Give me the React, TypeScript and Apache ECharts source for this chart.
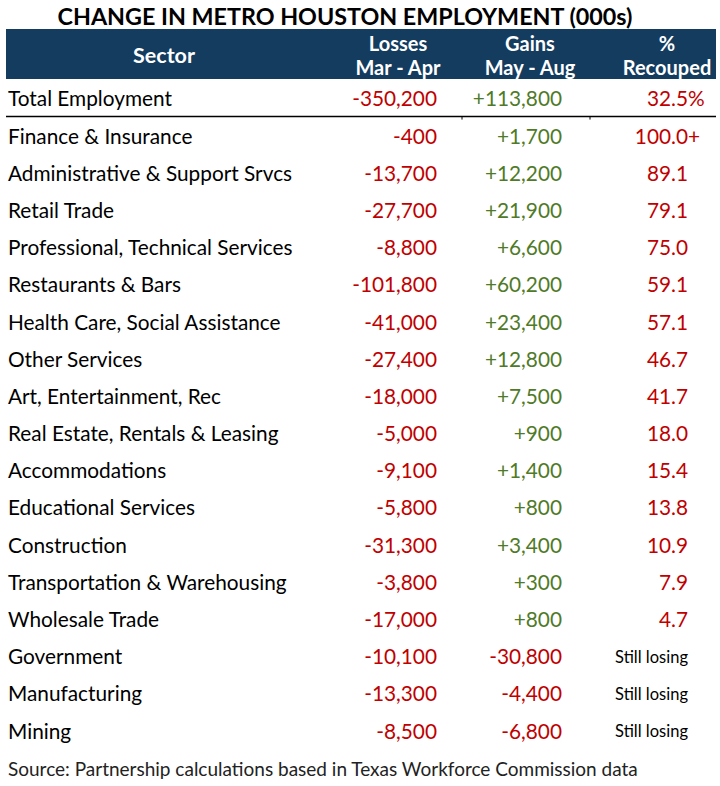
import React, { useEffect, useRef } from "react";
import * as echarts from "echarts";

const title = "CHANGE IN METRO HOUSTON EMPLOYMENT (000s)";
const headerSector = "Sector";
const headerCols = [
  ["Losses", "Mar - Apr"],
  ["Gains", "May - Aug"],
  ["%", "Recouped"],
];
const sectors = [
  "Total Employment",
  "Finance & Insurance",
  "Administrative & Support Srvcs",
  "Retail Trade",
  "Professional, Technical Services",
  "Restaurants & Bars",
  "Health Care, Social Assistance",
  "Other Services",
  "Art, Entertainment, Rec",
  "Real Estate, Rentals & Leasing",
  "Accommodations",
  "Educational Services",
  "Construction",
  "Transportation & Warehousing",
  "Wholesale Trade",
  "Government",
  "Manufacturing",
  "Mining",
];
const losses = [
  -350200, -400, -13700, -27700, -8800, -101800, -41000, -27400, -18000, -5000,
  -9100, -5800, -31300, -3800, -17000, -10100, -13300, -8500,
];
const gains = [
  113800, 1700, 12200, 21900, 6600, 60200, 23400, 12800, 7500, 900, 1400, 800,
  3400, 300, 800, -30800, -4400, -6800,
];
const recouped: (number | null)[] = [
  32.5, 100, 89.1, 79.1, 75.0, 59.1, 57.1, 46.7, 41.7, 18.0, 15.4, 13.8, 10.9,
  7.9, 4.7, null, null, null,
];
const stillLosing = "Still losing";
const source =
  "Source: Partnership calculations based in Texas Workforce Commission data";

const FONT = "Lato, 'Open Sans', sans-serif";
const RED = "#c00000";
const GREEN = "#4f7a28";
const NAVY = "#133c5f";

const fmtNum = (v: number) =>
  (v > 0 ? "+" : "") + v.toLocaleString("en-US");

export default function App() {
  const ref = useRef<HTMLDivElement>(null);
  useEffect(() => {
    document.body.style.margin = "0";
    const chart = echarts.init(ref.current!, null, { renderer: "svg" });
    const rowFont = 20.8;
    const option: any = {
      animation: false,
      backgroundColor: "#ffffff",
      grid: { left: 0, right: 0, top: 79.4, bottom: 37.4 },
      xAxis: { type: "value", min: 0, max: 720, show: false },
      yAxis: {
        type: "category",
        data: sectors,
        inverse: true,
        axisLine: { show: false },
        axisTick: { show: false },
        splitLine: { show: false },
        axisLabel: {
          inside: true,
          margin: 8,
          color: "#000",
          fontSize: rowFont,
          fontFamily: FONT,
        },
      },
      graphic: [
        {
          type: "text",
          x: 345,
          y: 16,
          style: {
            text: title,
            fill: "#000",
            fontSize: 23.3,
            fontWeight: "bold",
            fontFamily: FONT,
            align: "center",
            verticalAlign: "middle",
          },
        },
        {
          type: "rect",
          shape: { x: 6, y: 29, width: 710, height: 50 },
          style: { fill: NAVY },
        },
        {
          type: "text",
          x: 164,
          y: 55,
          style: {
            text: headerSector,
            fill: "#fff",
            fontSize: 21.5,
            fontWeight: "bold",
            fontFamily: FONT,
            align: "center",
            verticalAlign: "middle",
          },
        },
        ...headerCols.flatMap((lines, c) =>
          lines.map((t, k) => ({
            type: "text",
            x: [398, 530, 667][c],
            y: 43 + k * 24,
            style: {
              text: t,
              fill: "#fff",
              fontSize: 20,
              fontWeight: "bold",
              fontFamily: FONT,
              align: "center",
              verticalAlign: "middle",
            },
          }))
        ),
        {
          type: "text",
          x: 8,
          y: 768,
          style: {
            text: source,
            fill: "#222",
            fontSize: 19,
            fontFamily: FONT,
            align: "left",
            verticalAlign: "middle",
          },
        },
      ],
      series: [
        {
          type: "custom",
          coordinateSystem: "cartesian2d",
          data: sectors.map((_, i) => [0, i]),
          encode: { x: 0, y: 1 },
          renderItem: (params: any, api: any) => {
            const i = params.dataIndex;
            const y = api.coord([0, i])[1];
            const band = api.size([0, 1])[1];
            const xl = api.coord([437, i])[0];
            const xg = api.coord([562, i])[0];
            const xp = api.coord([688, i])[0];
            const base = {
              fontSize: rowFont,
              fontFamily: FONT,
              align: "right",
              verticalAlign: "middle",
            };
            const children: any[] = [
              {
                type: "text",
                x: xl,
                y,
                style: { ...base, text: fmtNum(losses[i]), fill: RED },
              },
              {
                type: "text",
                x: xg,
                y,
                style: {
                  ...base,
                  text: fmtNum(gains[i]),
                  fill: gains[i] >= 0 ? GREEN : RED,
                },
              },
            ];
            const p = recouped[i];
            if (p === null) {
              children.push({
                type: "text",
                x: xp,
                y: y + 1,
                style: {
                  ...base,
                  fontSize: 16.5,
                  text: stillLosing,
                  fill: "#000",
                },
              });
            } else {
              children.push({
                type: "text",
                x: xp,
                y,
                style: { ...base, text: p.toFixed(1), fill: RED },
              });
              const suffix = i === 0 ? "%" : p >= 100 ? "+" : "";
              if (suffix) {
                children.push({
                  type: "text",
                  x: xp,
                  y,
                  style: { ...base, align: "left", text: suffix, fill: RED },
                });
              }
            }
            if (i === 0) {
              const ly = y + band / 2;
              children.push({
                type: "line",
                shape: { x1: api.coord([6, i])[0], y1: ly, x2: api.coord([716, i])[0], y2: ly },
                style: { stroke: "#000", lineWidth: 1.5 },
              });
              [462, 590].forEach((tx) => {
                const x = api.coord([tx, i])[0];
                children.push({
                  type: "line",
                  shape: { x1: x, y1: ly, x2: x, y2: ly + 3 },
                  style: { stroke: "#000", lineWidth: 1 },
                });
              });
            }
            return { type: "group", children };
          },
        },
      ],
    };
    chart.setOption(option);
    return () => chart.dispose();
  }, []);
  return <div ref={ref} style={{ width: 720, height: 786 }} />;
}
